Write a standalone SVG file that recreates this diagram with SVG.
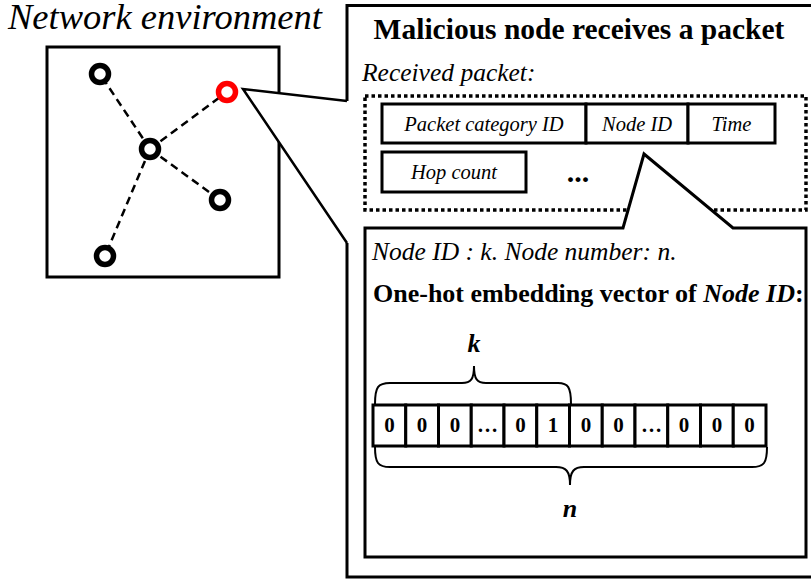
<svg xmlns="http://www.w3.org/2000/svg" width="811" height="582" viewBox="0 0 811 582">
<style>
text{font-family:"Liberation Serif","Times New Roman",serif;fill:#000}
.it{font-style:italic}
.b{font-weight:bold}
.box{fill:#fff;stroke:#000;stroke-width:3}
.node{fill:#fff;stroke:#000;stroke-width:5.5}
.edge{stroke:#000;stroke-width:2.5;stroke-dasharray:8 5;fill:none}
.cell{fill:#fff;stroke:#000;stroke-width:3}
.cv{font-size:21px;font-weight:bold;text-anchor:middle}
.brace{fill:none;stroke:#000;stroke-width:2}
.fl{font-size:20.5px;font-style:italic;text-anchor:middle}
</style>
<rect x="0" y="0" width="811" height="582" fill="#fff"/>

<g id="network">
  <text class="it" x="8" y="29" font-size="36.5">Network environment</text>
  <rect class="box" x="47" y="47" width="232" height="230"/>
</g>

<g id="edges">
  <line class="edge" x1="150" y1="149" x2="100" y2="74"/>
  <line class="edge" x1="150" y1="149" x2="227" y2="92"/>
  <line class="edge" x1="150" y1="149" x2="220" y2="200"/>
  <line class="edge" x1="150" y1="149" x2="105" y2="256"/>
</g>

<g id="node-a"><circle class="node" cx="100" cy="74" r="8.5"/></g>
<g id="node-malicious"><circle class="node" cx="227" cy="92" r="8.5" style="stroke:#ff0000"/></g>
<g id="node-center"><circle class="node" cx="150" cy="149" r="8.5"/></g>
<g id="node-b"><circle class="node" cx="220" cy="200" r="8.5"/></g>
<g id="node-c"><circle class="node" cx="105" cy="256" r="8.5"/></g>

<g id="outer-callout">
  <path d="M347,101 L347,5.5 L815,5.5 L815,577 L347,577 L347,243" fill="#fff" stroke="#000" stroke-width="3"/>
  <path d="M347,101 L243,89 L347,243" fill="#fff" stroke="#000" stroke-width="2.5"/>
  <text class="b" x="579" y="39" font-size="29.5" text-anchor="middle">Malicious node receives a packet</text>
  <text class="it" x="362" y="81" font-size="25.5">Received packet:</text>
</g>

<g id="packet">
  <rect x="365" y="96" width="441" height="114" fill="none" stroke="#000" stroke-width="3.5" stroke-dasharray="3.5 3"/>
  <g id="field-category"><rect class="box" x="382" y="104" width="204" height="39"/><text class="fl" x="484" y="131">Packet category ID</text></g>
  <g id="field-nodeid"><rect class="box" x="586" y="104" width="102" height="39"/><text class="fl" x="637" y="131">Node ID</text></g>
  <g id="field-time"><rect class="box" x="688" y="104" width="87" height="39"/><text class="fl" x="731.5" y="131">Time</text></g>
  <g id="field-hop"><rect class="box" x="382" y="152" width="144" height="40"/><text class="fl" x="454" y="179">Hop count</text></g>
  <text class="b" x="578" y="182" font-size="30" text-anchor="middle">...</text>
</g>

<g id="embedding">
  <path d="M365,228 L623,228 L644,154 L733,228 L806,228 L806,557 L365,557 Z" fill="#fff" stroke="#000" stroke-width="3"/>
  <text class="it" x="372" y="260" font-size="25.5">Node ID : k. Node number: n.</text>
  <text class="b" x="373" y="302" font-size="26">One-hot embedding vector of <tspan class="it">Node ID</tspan>:</text>
  <text class="b it" x="474" y="352" font-size="26" text-anchor="middle">k</text>
  <path class="brace" d="M375,404 C375,387 378,383 390,383 L462,383 C471,383 474,379 474,366 C474,379 477,383 486,383 L558,383 C568,383 571,387 571,404"/>
  <g id="vector">
    <rect class="cell" x="373" y="405" width="32.75" height="41"/>
    <rect class="cell" x="405.75" y="405" width="32.75" height="41"/>
    <rect class="cell" x="438.5" y="405" width="32.75" height="41"/>
    <rect class="cell" x="471.25" y="405" width="32.75" height="41"/>
    <rect class="cell" x="504" y="405" width="32.75" height="41"/>
    <rect class="cell" x="536.75" y="405" width="32.75" height="41"/>
    <rect class="cell" x="569.5" y="405" width="32.75" height="41"/>
    <rect class="cell" x="602.25" y="405" width="32.75" height="41"/>
    <rect class="cell" x="635" y="405" width="32.75" height="41"/>
    <rect class="cell" x="667.75" y="405" width="32.75" height="41"/>
    <rect class="cell" x="700.5" y="405" width="32.75" height="41"/>
    <rect class="cell" x="733.25" y="405" width="32.75" height="41"/>
    <text class="cv" x="389.4" y="432">0</text>
    <text class="cv" x="422.1" y="432">0</text>
    <text class="cv" x="454.9" y="432">0</text>
    <text class="cv" x="487.6" y="432">…</text>
    <text class="cv" x="520.4" y="432">0</text>
    <text class="cv" x="553.1" y="432">1</text>
    <text class="cv" x="585.9" y="432">0</text>
    <text class="cv" x="618.6" y="432">0</text>
    <text class="cv" x="651.4" y="432">…</text>
    <text class="cv" x="684.1" y="432">0</text>
    <text class="cv" x="716.9" y="432">0</text>
    <text class="cv" x="749.6" y="432">0</text>
  </g>
  <path class="brace" d="M375,447 C375,463 378,467 390,467 L556,467 C566,467 570,471 570,485 C570,471 574,467 584,467 L752,467 C764,467 767,463 767,447"/>
  <text class="b it" x="570" y="517" font-size="26" text-anchor="middle">n</text>
</g>
</svg>
